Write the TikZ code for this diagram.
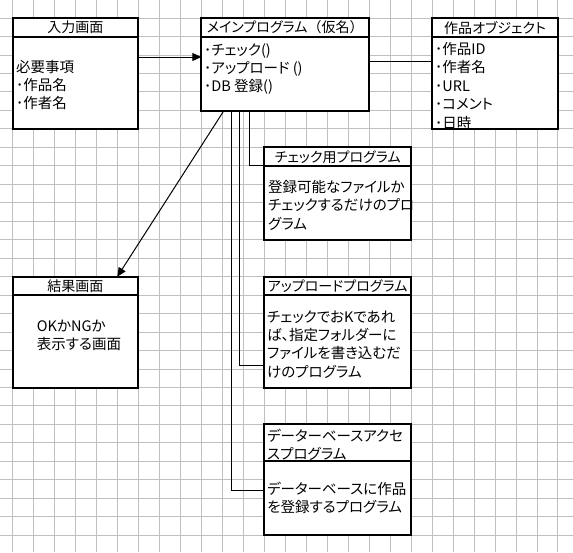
\documentclass[tikz,border=0pt]{standalone}
\usepackage{fontspec}
\setmainfont{Noto Sans CJK JP}[RawFeature=+palt]
\usetikzlibrary{arrows.meta,calc}
\begin{document}
\begin{tikzpicture}[x=1pt,y=-1pt,
  gridline/.style={draw=black!25, line width=1pt},
  box/.style={draw, line width=2pt, inner sep=0pt, outer sep=0pt, anchor=north west},
  divider/.style={line width=2pt},
  hdr/.style={font=\fontsize{14}{16}\selectfont, inner sep=0pt},
  txt/.style={font=\fontsize{14.5}{18.4}\selectfont, inner sep=0pt, anchor=base west},
  conn/.style={line width=1pt},
  tip/.style={-{Triangle[length=9pt,width=8pt]}},
]
\useasboundingbox (0,0) rectangle (573,552);
\fill[white] (0,0) rectangle (573,552);
% grid
\foreach \k in {0,...,26} \draw[gridline] ({12.5+20.98*\k},0) -- ({12.5+20.98*\k},552);
\foreach \k in {0,...,28} \draw[gridline] (0,{18.1+18.47*\k}) -- (573,{18.1+18.47*\k});

% boxes
\node[box, fill=white, minimum width=125.9pt, minimum height=110.8pt] (input) at (12.5,18.1) {};
\node[box, fill=white, minimum width=167.9pt, minimum height=92.4pt] (main) at (201.3,18.1) {};
\node[box, fill=white, minimum width=125.9pt, minimum height=110.8pt] (obj) at (432.1,18.1) {};
\node[box, fill=white, minimum width=146.8pt, minimum height=92.3pt] (check) at (264.3,147.4) {};
\node[box, fill=white, minimum width=146.8pt, minimum height=110.8pt] (upload) at (264.3,276.7) {};
\node[box, fill=white, minimum width=146.8pt, minimum height=110.9pt] (db) at (264.3,424.4) {};
\node[box, fill=white, minimum width=125.9pt, minimum height=110.8pt] (result) at (12.5,276.7) {};

% header dividers
\draw[divider] ($(input.north west)+(0,18.5)$) -- ($(input.north east)+(0,18.5)$);
\draw[divider] ($(main.north west)+(0,18.5)$) -- ($(main.north east)+(0,18.5)$);
\draw[divider] ($(obj.north west)+(0,18.5)$) -- ($(obj.north east)+(0,18.5)$);
\draw[divider] ($(check.north west)+(0,18.5)$) -- ($(check.north east)+(0,18.5)$);
\draw[divider] ($(upload.north west)+(0,18.5)$) -- ($(upload.north east)+(0,18.5)$);
\draw[divider] ($(db.north west)+(0,37)$) -- ($(db.north east)+(0,37)$);
\draw[divider] ($(result.north west)+(0,18.5)$) -- ($(result.north east)+(0,18.5)$);

% headers
\node[hdr] (inputh) at ($(input.north)+(0,9.5)$) {入力画面};
\node[hdr] (mainh) at ($(main.north)+(0,9.5)$) {メインプログラム{\addfontfeature{RawFeature=-palt}（仮名）}};
\node[hdr] (objh) at ($(obj.north)+(0,9.5)$) {作品オブジェクト};
\node[hdr] (checkh) at ($(check.north)+(0,9.5)$) {チェック用プログラム};
\node[hdr] (uploadh) at ($(upload.north)+(0,9.5)$) {アップロードプログラム};
\node[txt] (dbh) at (267,441) {\vtop{\hbox{データーベースアクセ}\hbox{スプログラム}}};
\node[hdr] (resulth) at ($(result.north)+(0,9.5)$) {結果画面};

% body texts
\node[txt] (inputt) at (16,72) {\vtop{\hbox{必要事項}\hbox{･作品名}\hbox{･作者名}}};
\node[txt] (maint) at (204,55) {\vtop{\hbox{･チェック()}\hbox{･アップロード ()}\hbox{･DB 登録()}}};
\node[txt] (objt) at (435,54.5) {\vtop{\hbox{･作品ID}\hbox{･作者名}\hbox{･URL}\hbox{･コメント}\hbox{･日時}}};
\node[txt] (checkt) at (268,192.5) {\vtop{\hbox{登録可能なファイルか}\hbox{チェックするだけのプロ}\hbox{グラム}}};
\node[txt] (uploadt) at (267,322) {\vtop{\hbox{チェックでおKであれ}\hbox{ば、指定フォルダーに}\hbox{ファイルを書き込むだ}\hbox{けのプログラム}}};
\node[txt] (dbt) at (267,494.5) {\vtop{\hbox{データーベースに作品}\hbox{を登録するプログラム}}};
\node[txt] (resultt) at (36.7,331) {\vtop{\hbox{OKかNGか}\hbox{表示する画面}}};

% connectors
\draw[conn, tip] (input.east |- 0,57) -- (main.west |- 0,57);
\draw[conn] (main.east |- 0,61.7) -- (obj.west |- 0,61.7);
\draw[conn] (main.south -| 249.3,0) |- (check.west |- 0,165);
\draw[conn] (main.south -| 239.5,0) |- (upload.west |- 0,365);
\draw[conn] (main.south -| 231.5,0) |- (db.west |- 0,490);
\draw[conn, tip] (main.south -| 224,0) -- (result.north -| 117.3,0);
\end{tikzpicture}
\end{document}
